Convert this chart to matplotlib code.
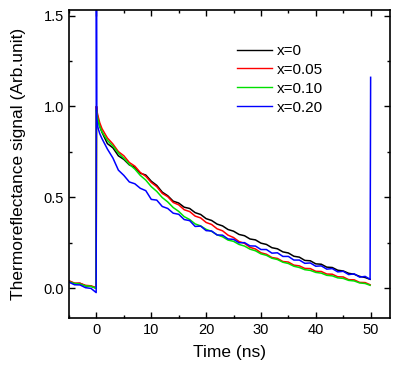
import matplotlib
matplotlib.use('Agg')
import matplotlib.pyplot as plt
from matplotlib.ticker import MultipleLocator

plt.rcParams['font.family'] = ['Liberation Sans', 'DejaVu Sans']

# time axis (ns), shared by the four traces
TIME = [-5, -4, -3, -2, -1, -0.05, 0.0, 0.05, 0.3, 0.6,
        1, 2, 3, 4, 5, 6, 7, 8, 9, 10,
        11, 12, 13, 14, 15, 16, 17, 18, 19, 20,
        21, 22, 23, 24, 25, 26, 27, 28, 29, 30,
        31, 32, 33, 34, 35, 36, 37, 38, 39, 40,
        41, 42, 43, 44, 45, 46, 47, 48, 49, 49.9]

X0 = [0.038, 0.024, 0.026, 0.012, 0.01, 0.0, 1.0, 0.97, 0.93, 0.89,
      0.858, 0.795, 0.772, 0.728, 0.708, 0.678, 0.665, 0.632, 0.622, 0.588,
      0.565, 0.528, 0.508, 0.478, 0.468, 0.445, 0.438, 0.415, 0.405, 0.382,
      0.372, 0.352, 0.342, 0.322, 0.313, 0.295, 0.288, 0.27, 0.265, 0.247,
      0.24, 0.222, 0.216, 0.199, 0.193, 0.175, 0.17, 0.152, 0.15, 0.133,
      0.131, 0.115, 0.113, 0.098, 0.094, 0.081, 0.076, 0.064, 0.058, 0.048]

X005 = [0.04, 0.027, 0.026, 0.015, 0.012, 0.002, 1.0, 0.98, 0.945, 0.91,
        0.878, 0.826, 0.793, 0.751, 0.728, 0.691, 0.671, 0.636, 0.615, 0.581,
        0.558, 0.521, 0.503, 0.471, 0.458, 0.431, 0.421, 0.396, 0.386, 0.361,
        0.35, 0.326, 0.315, 0.291, 0.278, 0.256, 0.246, 0.224, 0.215, 0.194,
        0.186, 0.168, 0.163, 0.146, 0.143, 0.126, 0.122, 0.108, 0.107, 0.092,
        0.091, 0.077, 0.076, 0.062, 0.061, 0.046, 0.045, 0.031, 0.03, 0.018]

X010 = [0.034, 0.025, 0.022, 0.012, 0.009, -0.002, 0.98, 0.96, 0.925, 0.89,
        0.86, 0.813, 0.782, 0.743, 0.714, 0.681, 0.655, 0.62, 0.594, 0.558,
        0.532, 0.498, 0.474, 0.443, 0.422, 0.393, 0.377, 0.353, 0.342, 0.323,
        0.312, 0.293, 0.282, 0.264, 0.257, 0.24, 0.231, 0.214, 0.205, 0.188,
        0.18, 0.164, 0.157, 0.142, 0.135, 0.12, 0.113, 0.101, 0.097, 0.086,
        0.082, 0.07, 0.067, 0.056, 0.053, 0.042, 0.039, 0.028, 0.025, 0.015]

X020 = [0.032, 0.018, 0.017, 0.002, -0.002, -0.025, 1.6, 0.93, 0.88, 0.85,
        0.823, 0.765, 0.716, 0.649, 0.62, 0.584, 0.574, 0.549, 0.536, 0.488,
        0.484, 0.449, 0.438, 0.412, 0.406, 0.377, 0.371, 0.339, 0.341, 0.316,
        0.314, 0.292, 0.291, 0.27, 0.268, 0.249, 0.25, 0.232, 0.231, 0.212,
        0.212, 0.192, 0.194, 0.174, 0.174, 0.154, 0.154, 0.136, 0.138, 0.12,
        0.122, 0.104, 0.107, 0.089, 0.092, 0.074, 0.078, 0.06, 0.064, 0.048]

# second pump pulse at the end of the blue trace
X020_END_T = [50.0]
X020_END_V = [1.16]

LABELS = ['x=0', 'x=0.05', 'x=0.10', 'x=0.20']
COLORS = ['black', '#ff0000', '#00e000', '#0000ff']

fig = plt.figure(figsize=(3.99, 3.75), dpi=100)
ax = fig.add_axes([0.173, 0.152, 0.804, 0.821])

series = [(TIME, X0), (TIME, X005), (TIME, X010),
          (TIME + X020_END_T, X020 + X020_END_V)]
for (t, v), lab, c in zip(series, LABELS, COLORS):
    ax.plot(t, v, color=c, lw=1.1, label=lab)

ax.set_xlim(-5, 53.5)
ax.set_ylim(-0.165, 1.53)
ax.xaxis.set_major_locator(MultipleLocator(10))
ax.xaxis.set_minor_locator(MultipleLocator(5))
ax.yaxis.set_major_locator(MultipleLocator(0.5))
ax.yaxis.set_minor_locator(MultipleLocator(0.25))
ax.tick_params(which='both', direction='in', top=True, right=True,
               labelsize=10.5, width=1.0)
ax.tick_params(which='major', length=4.5)
ax.tick_params(which='minor', length=2.5)
for s in ax.spines.values():
    s.set_linewidth(1.2)

ax.set_xlabel('Time (ns)', fontsize=12.5, labelpad=6)
ax.set_ylabel('Thermoreflectance signal (Arb.unit)', fontsize=12.5, labelpad=13)

leg = ax.legend(loc='upper left', bbox_to_anchor=(0.49, 0.925), frameon=False,
                fontsize=11, handlelength=2.3, handletextpad=0.3,
                labelspacing=0.32, borderpad=0.2)
for h in leg.get_lines():
    h.set_linewidth(1.0)

fig.savefig('out.png', dpi=100)
